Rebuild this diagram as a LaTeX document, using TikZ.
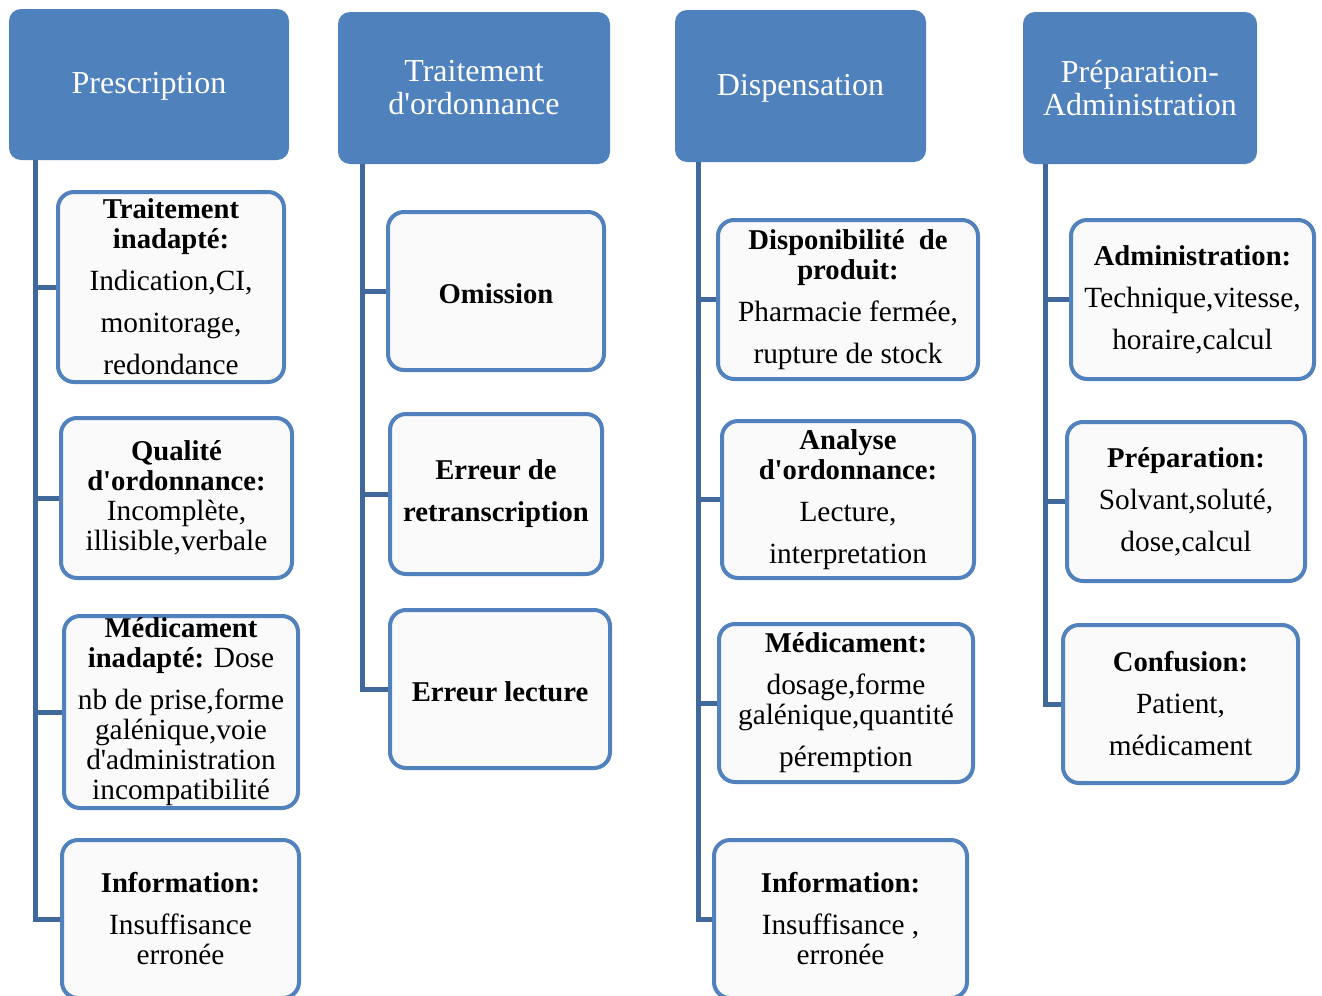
\documentclass[tikz,border=0pt]{standalone}
\usepackage{fontspec}
\setmainfont{Liberation Serif}
\usetikzlibrary{calc}

\definecolor{headblue}{HTML}{4F81BD}
\definecolor{edgeblue}{HTML}{5182BE}
\definecolor{spineblue}{HTML}{41689B}
\definecolor{boxfill}{HTML}{FAFAFA}

% fonts: body text, bold lead-ins, column headers
\newcommand\bodyfont{\fontsize{22}{22.5}\selectfont}
\newcommand\headfont{\fontsize{24}{24.75}\selectfont}
\newcommand\lead[1]{{\fontsize{21.5}{22.5}\selectfont\bfseries #1}}
\newcommand\q{\textquotesingle}

\tikzset{
  sz/.style 2 args={minimum width={#1*0.75pt}, minimum height={#2*0.75pt}},
  head/.style={fill=headblue, draw=none, rounded corners=9pt, inner sep=0pt,
               align=center, font=\headfont, text=white},
  item/.style={draw=edgeblue, line width=3pt, fill=boxfill, rounded corners=12pt,
               inner sep=0pt, align=center, font=\bodyfont, text=black,
               execute at begin node={\rule{0pt}{18.5pt}}},
  conn/.style={draw=spineblue, line width=3.75pt},
}

\begin{document}
\begin{tikzpicture}[x=0.75pt, y=-0.75pt]
  \fill[white] (0,0) rectangle (1322,996);
  \useasboundingbox (0,0) rectangle (1322,996);

  % column headers
  \node[head, sz={280}{151}] (h1) at (149,84.5) {\rule{0pt}{19pt}Prescription};
  \node[head, sz={272}{152}] (h2) at (474,88) {Traitement\\d\q ordonnance};
  \node[head, sz={251}{152}] (h3) at (800.5,86) {\rule{0pt}{19pt}Dispensation};
  \node[head, sz={234}{152}] (h4) at (1140,88) {Préparation-\\Administration};

  % spine start points under each header
  \coordinate (s1) at ($(h1.south west)+(27,0)$);
  \coordinate (s2) at ($(h2.south west)+(25,0)$);
  \coordinate (s3) at ($(h3.south west)+(24,0)$);
  \coordinate (s4) at ($(h4.south west)+(23,0)$);

  % Prescription
  \node[item, sz={226}{190}] (a1) at (171,287)
    {\lead{Traitement}\\\lead{inadapté:}\\[9pt]Indication,CI,\\[9pt]monitorage,\\[9pt]redondance};
  \node[item, sz={231}{160}] (a2) at (176.5,498)
    {\lead{Qualité}\\\lead{d\q ordonnance:}\\Incomplète,\\illisible,verbale};
  \node[item, sz={234}{192}] (a3) at (181,712)
    {\lead{Médicament}\\\lead{inadapté:} Dose\\[9pt]nb de prise,forme\\galénique,voie\\d\q administration\\incompatibilité};
  \node[item, sz={237}{158}] (a4) at (180.5,919)
    {\lead{Information:}\\[9pt]Insuffisance\\erronée};

  % Traitement d'ordonnance
  \node[item, sz={216}{158}] (b1) at (496,291) {\lead{Omission}};
  \node[item, sz={212}{160}] (b2) at (496,494) {\lead{Erreur de}\\[9pt]\lead{retranscription}};
  \node[item, sz={220}{158}] (b3) at (500,689) {\lead{Erreur lecture}};

  % Dispensation
  \node[item, sz={260}{159}] (c1) at (848,299.5)
    {\lead{Disponibilité~~de}\\\lead{produit:}\\[9pt]Pharmacie fermée,\\[9pt]rupture de stock};
  \node[item, sz={252}{157}] (c2) at (848,499.5)
    {\lead{Analyse}\\\lead{d\q ordonnance:}\\[9pt]Lecture,\\[9pt]interpretation};
  \node[item, sz={254}{158}] (c3) at (846,703)
    {\lead{Médicament:}\\[9pt]dosage,forme\\galénique,quantité\\[9pt]péremption};
  \node[item, sz={253}{158}] (c4) at (840.5,919)
    {\lead{Information:}\\[9pt]Insuffisance ,\\erronée};

  % Préparation-Administration
  \node[item, sz={243}{159}] (d1) at (1192.5,299.5)
    {\lead{Administration:}\\[9pt]Technique,vitesse,\\[9pt]horaire,calcul};
  \node[item, sz={238}{159}] (d2) at (1186,501.5)
    {\lead{Préparation:}\\[9pt]Solvant,soluté,\\[9pt]dose,calcul};
  \node[item, sz={235}{158}] (d3) at (1180.5,704)
    {\lead{Confusion:}\\[9pt]Patient,\\[9pt]médicament};

  % spines and branches
  \foreach \s/\n in {s1/a1, s1/a2, s1/a3, s1/a4,
                     s2/b1, s2/b2, s2/b3,
                     s3/c1, s3/c2, s3/c3, s3/c4,
                     s4/d1, s4/d2, s4/d3}
    \draw[conn] (\s) |- (\n.west);
\end{tikzpicture}
\end{document}
